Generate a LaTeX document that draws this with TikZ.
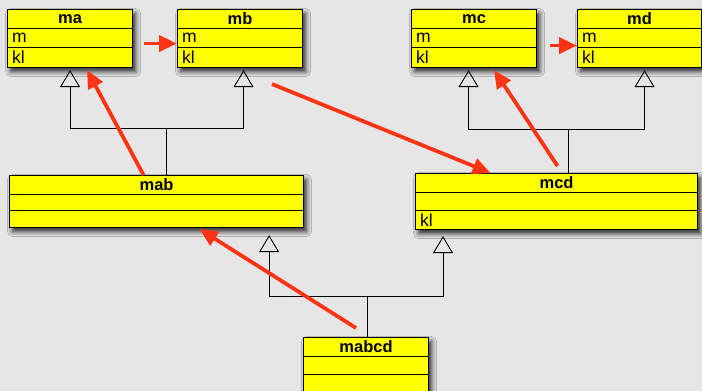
\documentclass[tikz,border=0pt]{standalone}
\usepackage{fontspec}
\setmainfont{Liberation Sans}
\usepackage{tikz}
\usetikzlibrary{arrows.meta, calc, shadows.blur}
\definecolor{canvasgray}{RGB}{230,230,230}
\definecolor{classyellow}{RGB}{255,255,0}
\definecolor{tracered}{RGB}{255,52,20}

% class box: name, x, y, width, height, title, row 2, row 3
\newcommand{\umlclass}[8]{%
  \node[classbox, minimum width=#4pt, minimum height=#5pt] (#1) at (#2,#3) {};
  \draw[divider] ([yshift=-19.5pt]#1.north west) -- ([yshift=-19.5pt]#1.north east);
  \draw[divider] ([yshift={-19.5pt-(#5pt-19.5pt)/2}]#1.north west) -- ([yshift={-19.5pt-(#5pt-19.5pt)/2}]#1.north east);
  \node[classtitle] (#1-title) at ([yshift=-10pt]#1.north) {#6};
  \node[classrow] (#1-row2) at ([yshift={-19.5pt-(#5pt-19.5pt)/4}]#1.north west) {#7};
  \node[classrow] (#1-row3) at ([yshift={-#5pt+(#5pt-19.5pt)/4}]#1.north west) {#8};
}

\begin{document}
\begin{tikzpicture}[
    x=1pt, y=-1pt,
    classbox/.style={rectangle, draw, line width=1.1pt, fill=classyellow, anchor=north west, inner sep=0pt,
      blur shadow={shadow xshift=3pt, shadow yshift=-4pt, shadow blur radius=5pt, shadow opacity=85}},
    divider/.style={line width=1pt},
    classtitle/.style={font=\fontsize{16.5}{18}\selectfont\bfseries, inner sep=0pt},
    classrow/.style={font=\fontsize{17.5}{18}\selectfont, anchor=west, xshift=5pt, inner sep=0pt},
    inherit/.style={-{Triangle[open, length=17pt, width=20pt]}, line width=0.9pt, black},
    hl/.style={-{Triangle[length=18pt, width=16pt]}, line width=3.8pt, tracered}
]
% canvas
\fill[canvasgray] (0,0) rectangle (702,391);
\useasboundingbox (0,0) rectangle (702,391);

% top row
\umlclass{ma}{7}{9}{125}{58}{ma}{m}{kl}
\umlclass{mb}{177}{9}{125}{58}{mb}{m}{kl}
\umlclass{mc}{411}{9}{125}{58}{mc}{m}{kl}
\umlclass{md}{577}{9}{124}{58}{md}{m}{kl}

% middle row
\umlclass{mab}{9}{175}{294}{52}{mab}{}{}
\umlclass{mcd}{415}{173}{282}{56}{mcd}{}{kl}

% bottom
\umlclass{mabcd}{303}{337}{125}{55}{mabcd}{}{}

% inheritance
\coordinate (jab) at (166,128);
\coordinate (jcd) at (568,129);
\coordinate (jabcd) at (367,296);
\draw[inherit, -] (mab.north -| jab) -- (jab);
\draw[inherit, shorten >=2pt] (jab) -| (ma.south);
\draw[inherit, shorten >=2pt] (jab) -| ([xshift=3.5pt]mb.south);
\draw[inherit, -] (mcd.north -| jcd) -- (jcd);
\draw[inherit, shorten >=2pt] (jcd) -| ([xshift=-5.5pt]mc.south);
\draw[inherit, shorten >=2pt] (jcd) -| ([xshift=5pt]md.south);
\draw[inherit, -] (mabcd.north -| jabcd) -- (jabcd);
\draw[inherit, shorten >=7pt] (jabcd) -| ([xshift=-35pt]mab.south east);
\draw[inherit, shorten >=6pt] (jabcd) -| ([xshift=28pt]mcd.south west);

% trace arrows
\draw[hl] ([shift={(11,5)}]ma.east) -- ([shift={(0,5)}]mb.west);
\draw[hl] ([shift={(13,7)}]mc.east) -- ([shift={(0,7)}]md.west);
\draw[hl] ([shift={(-13,0)}]mab.north) -- ([shift={(17,2)}]ma.south);
\draw[hl] ([shift={(-31,16)}]mb.south east) -- ([shift={(-66,0)}]mcd.north);
\draw[hl] ([shift={(1,-7)}]mcd.north) -- ([shift={(20,2)}]mc.south);
\draw[hl] ([shift={(-10,-9)}]mabcd.north) -- ([shift={(43,1)}]mab.south);
\end{tikzpicture}
\end{document}
